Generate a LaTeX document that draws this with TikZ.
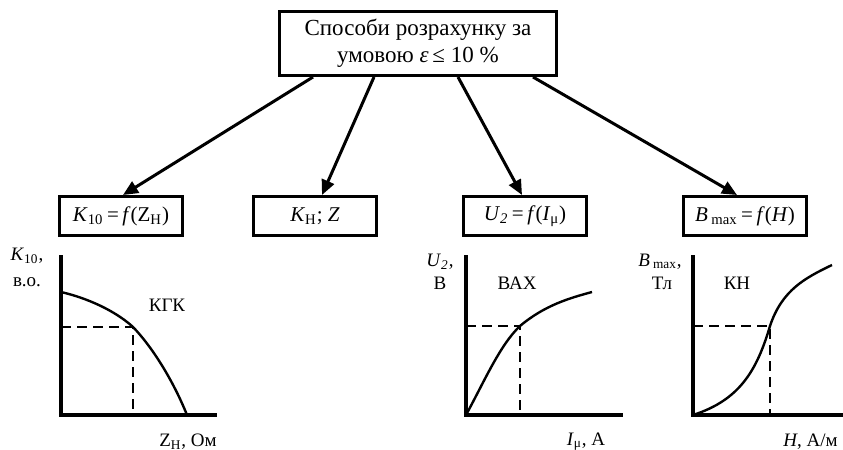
\documentclass[tikz,border=0pt]{standalone}
\usepackage{fontspec}
\setmainfont{Liberation Serif}
\usepackage{tikz}
\usetikzlibrary{arrows.meta,calc}
\tikzset{
box/.style = {rectangle, draw=black, line width=1.5pt, minimum width = #1,
              minimum height=19.5pt, inner sep=2pt,
              font=\fontsize{10.5}{12.5}\selectfont},
box/.default = 61.5pt % width of the small boxes
}
\tikzset{
arr/.style = {-{Triangle[length=7.5pt,width=6.5pt]}, line width=1.5pt}
}
\tikzset{
axis/.style = {line width=1.6pt},
curve/.style = {line width=1.2pt},
guide/.style = {line width=1pt, dash pattern=on 5pt off 3pt},
lbl/.style = {font=\fontsize{9.5}{11}\selectfont, inner sep=0pt}
}

\begin{document}
\begin{tikzpicture}[x=0.5pt, y=-0.5pt]
  \useasboundingbox (0,0) rectangle (843,450);
  \clip (0,0) rectangle (843,450);

  % Boxes
    \node[box=138.5pt, minimum height=32pt, align=center,
          font=\fontsize{11.5}{13.5}\selectfont] (methodsBox) at (418,43.5)
      {Способи розрахунку за\\умовою \textit{ε}\,≤ 10 \%};
    \node[box] (kgkBox) at (121,216) {\textit{K}\textsubscript{10}\,=\,\textit{f}(Z\textsubscript{Н})};
    \node[box] (kzBox) at (315,216) {\textit{K}\textsubscript{Н}; \textit{Z}};
    \node[box] (vaxBox) at (525,216) {\textit{U}\textsubscript{\textit{2}}\,=\,\textit{f}(\textit{I}\textsubscript{μ})};
    \node[box] (knBox) at (745,216) {\textit{B}\,\textsubscript{max}\,=\,\textit{f}(\textit{H})};

  % Arrows
    \draw[arr] ($(methodsBox.south)+(-105,0)$) -- ([xshift=1pt]kgkBox.north);
    \draw[arr] ($(methodsBox.south)+(-44,0)$) -- ([xshift=3.5pt]kzBox.north);
    \draw[arr] ($(methodsBox.south)+(40,0)$) -- ([xshift=-1.5pt]vaxBox.north);
    \draw[arr] ($(methodsBox.south)+(115,0)$) -- ([xshift=-4pt]knBox.north);

  % Chart K10 = f(Zн)
    \draw[axis] (61,255) -- (61,415) -- (217,415);
    \draw[guide] (61,327) -- (133,327) -- (133,415);
    \draw[curve] (61,292) .. controls (95,300) and (120,315) .. (133,327)
                          .. controls (155,350) and (175,385) .. (187,415);
    \node[lbl] (kAxis) at (27,256) {\textit{K}\textsubscript{10},};
    \node[lbl] (kUnit) at (27,282) {в.о.};
    \node[lbl] (kgkName) at (167,305) {КГК};
    \node[lbl] (zAxis) at (188,442) {Z\textsubscript{Н}, Ом};

  % Chart U2 = f(Iμ)
    \draw[axis] (466,255) -- (466,415) -- (623,415);
    \draw[guide] (466,326) -- (520,326) -- (520,415);
    \draw[curve] (466,415) .. controls (485,380) and (500,345) .. (520,326)
                           .. controls (545,305) and (570,298) .. (592,292);
    \node[lbl] (uAxis) at (440,262) {\textit{U}\textsubscript{\textit{2}},};
    \node[lbl] (uUnit) at (440,283) {В};
    \node[lbl] (vaxName) at (517,283) {ВАХ};
    \node[lbl] (iAxis) at (586,442) {\textit{I}\textsubscript{μ}, А};

  % Chart Bmax = f(H)
    \draw[axis] (693,255) -- (693,415) -- (860,415);
    \draw[guide] (693,326) -- (770,326) -- (770,415);
    \draw[curve] (693,415) .. controls (740,400) and (757,370) .. (770,326)
                           .. controls (782,290) and (805,278) .. (832,265);
    \node[lbl] (bAxis) at (660,262) {\textit{B}\,\textsubscript{max},};
    \node[lbl] (bUnit) at (662,283) {Тл};
    \node[lbl] (knName) at (737,283) {КН};
    \node[lbl, anchor=west] (hAxis) at (783,442) {\textit{H}, А/м};
\end{tikzpicture}
\end{document}
